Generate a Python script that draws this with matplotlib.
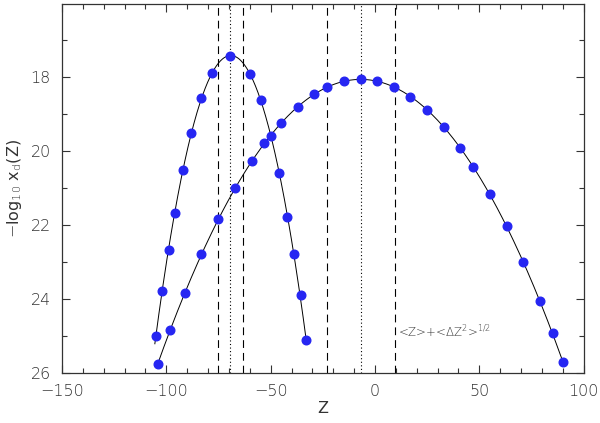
import numpy as np
import matplotlib
matplotlib.use("Agg")
import matplotlib.pyplot as plt
from matplotlib.ticker import MultipleLocator

plt.rcParams["font.family"] = ["DejaVu Sans"]
plt.rcParams["font.weight"] = "ultralight"

# narrow distribution
z_narrow = [-105.1, -101.9, -98.9, -96.0, -92.2, -88.0, -83.3, -78.3, -69.3,
            -59.9, -54.8, -50.0, -45.9, -42.0, -39.0, -35.6, -33.1]
y_narrow = [24.99, 23.78, 22.68, 21.68, 20.51, 19.52, 18.58, 17.90, 17.44,
            17.93, 18.61, 19.59, 20.58, 21.77, 22.78, 23.89, 25.11]

# broad distribution
z_broad = [-104.0, -98.1, -90.9, -83.3, -75.1, -67.0, -59.1, -53.1, -45.1,
           -37.1, -29.1, -22.9, -15.0, -6.9, 0.9, 9.1, 16.9, 25.0, 33.0,
           40.9, 46.9, 54.9, 63.1, 71.0, 78.9, 85.1, 90.1]
y_broad = [25.75, 24.82, 23.82, 22.78, 21.84, 21.01, 20.28, 19.79, 19.24,
           18.80, 18.47, 18.28, 18.12, 18.06, 18.12, 18.27, 18.53, 18.89, 19.36,
           19.92, 20.42, 21.17, 22.03, 22.99, 24.05, 24.92, 25.69]

# <Z> (dotted) and <Z> -/+ <dZ^2>^1/2 (dashed)
mean_z = [-69.3, -6.9]
sigma_lo = [-75.4, -23.2]
sigma_hi = [-63.1, 9.7]

ink = "#333333"
blue = "#2626f2"

fig = plt.figure(figsize=(6.0, 4.23), dpi=100)
ax = fig.add_axes([0.1033, 0.1175, 0.8695, 0.873])

for zs, ys in [(z_narrow, y_narrow), (z_broad, y_broad)]:
    # smooth fitted curve through the measured points
    c = np.polyfit(zs, ys, 2)
    zz = np.linspace(min(zs) - 0.4, max(zs) + 0.4, 300)
    ax.plot(zz, np.polyval(c, zz), color="black", lw=0.7, zorder=2)
    ax.plot(zs, ys, "o", color=blue, ms=6.2, mec=blue, zorder=3)

for m in mean_z:
    ax.axvline(m, color="black", lw=0.8, ls=(0, (1, 2.2)), zorder=1)
for s in sigma_lo + sigma_hi:
    ax.axvline(s, color="black", lw=0.8, ls=(0, (7, 4.5)), zorder=1)

ax.text(10.8, 24.88, r"<Z>+<$\Delta$Z$^2$>$^{1/2}$", fontsize=8.5,
        color=ink, ha="left", va="center")

ax.set_xlim(-150, 100)
ax.set_ylim(26, 16.03)
ax.set_xticks([-150, -100, -50, 0, 50, 100])
ax.set_yticks([18, 20, 22, 24, 26])
ax.xaxis.set_minor_locator(MultipleLocator(10))
ax.yaxis.set_minor_locator(MultipleLocator(1))
ax.tick_params(which="both", direction="in", top=True, right=True,
               color=ink, width=0.8, labelsize=11.5, labelcolor=ink)
ax.tick_params(which="major", length=6, pad=8)
ax.tick_params(which="minor", length=3.5)
for sp in ax.spines.values():
    sp.set_color(ink)
    sp.set_linewidth(0.9)

ax.set_xlabel("Z", fontsize=11.5, color=ink, labelpad=1)
ax.set_ylabel(r"$-$log$_{10}$ x$_\mathrm{d}$(Z)", fontsize=11.5, color=ink,
              labelpad=5)

fig.savefig("out.png", dpi=100)
